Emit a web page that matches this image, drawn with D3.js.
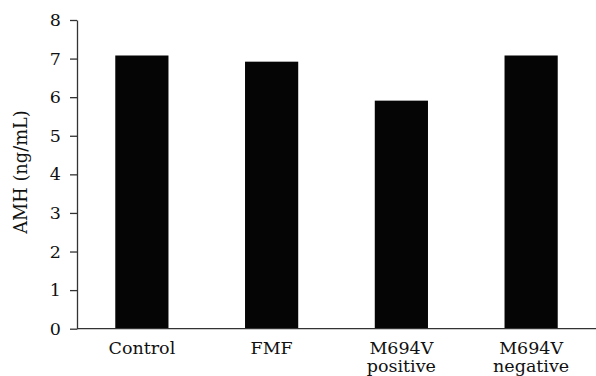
<!DOCTYPE html>
<html><head><meta charset="utf-8">
<script src="https://cdn.jsdelivr.net/npm/d3@7"></script>
<style>body{margin:0;background:#fff}svg{display:block}</style>
</head><body>
<script>
const categories = [["Control"], ["FMF"], ["M694V", "positive"], ["M694V", "negative"]];
const values = [7.08, 6.92, 5.91, 7.08];
const yTicks = [0, 1, 2, 3, 4, 5, 6, 7, 8];
const yTitle = "AMH (ng/mL)";

const W = 596, H = 376;
const m = {left: 77, right: 0, top: 20, bottom: 47.3};
const svg = d3.select("body").append("svg").attr("width", W).attr("height", H);
const font = "'DejaVu Serif', serif";
const fs = 17.5;

const keys = categories.map(c => c.join(" "));
const x = d3.scaleBand().domain(keys).range([m.left, W - m.right]).paddingInner(0.59).paddingOuter(0.295);
const y = d3.scaleLinear().domain([0, 8]).range([H - m.bottom, m.top]);

svg.append("g").selectAll("rect").data(values).join("rect")
  .attr("x", (d, i) => x(keys[i]))
  .attr("y", d => y(d))
  .attr("width", x.bandwidth())
  .attr("height", d => y(0) - y(d))
  .attr("fill", "#050505");

const ya = svg.append("g").attr("transform", `translate(${m.left},0)`)
  .call(d3.axisLeft(y).tickValues(yTicks).tickSize(7).tickPadding(9).tickSizeOuter(0));
ya.select(".domain").attr("stroke", "#333").attr("stroke-width", 1.3);
ya.selectAll(".tick line").attr("stroke", "#333").attr("stroke-width", 1.3);
ya.selectAll(".tick text").attr("font-family", font).attr("font-size", fs).attr("fill", "#111");

svg.append("line").attr("x1", m.left).attr("x2", W).attr("y1", y(0)).attr("y2", y(0))
  .attr("stroke", "#333").attr("stroke-width", 1.3);

const xl = svg.append("g").selectAll("text").data(categories).join("text")
  .attr("font-family", font).attr("font-size", fs).attr("fill", "#111")
  .attr("text-anchor", "middle")
  .attr("x", (d, i) => x(keys[i]) + x.bandwidth() / 2)
  .attr("y", y(0) + 25.6);
xl.selectAll("tspan").data(d => d).join("tspan")
  .attr("x", function() { return this.parentNode.getAttribute("x"); })
  .attr("dy", (d, i) => i === 0 ? 0 : 17.5)
  .text(d => d);

svg.append("text").attr("transform", `translate(27,172) rotate(-90)`)
  .attr("text-anchor", "middle").attr("font-family", font).attr("font-size", 17.8).attr("fill", "#111")
  .text(yTitle);
</script>
</body></html>
